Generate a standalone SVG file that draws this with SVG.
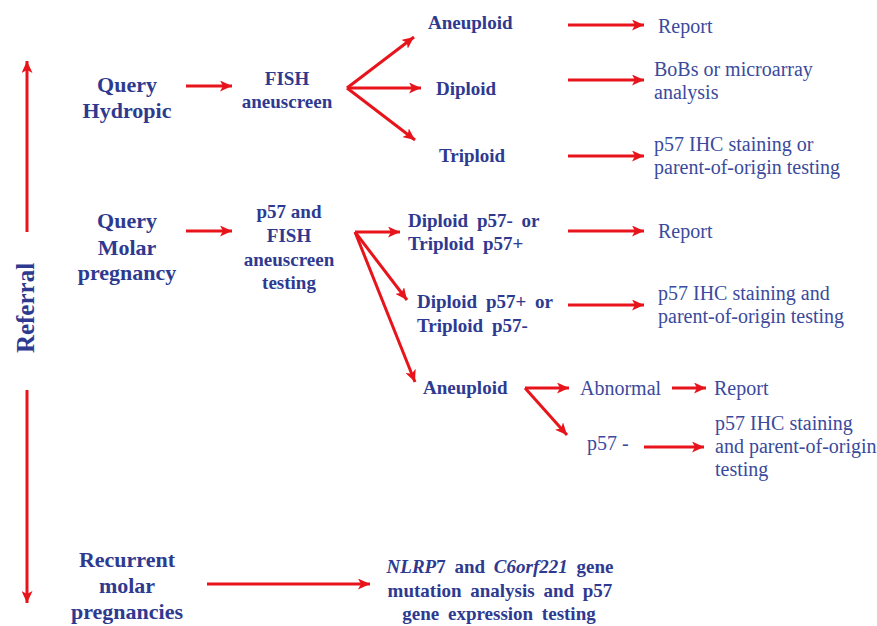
<svg xmlns="http://www.w3.org/2000/svg" width="877" height="626" viewBox="0 0 877 626" font-family="'Liberation Serif', 'Times New Roman', 'DejaVu Serif', serif">
<defs>
<marker id="ah" markerUnits="userSpaceOnUse" markerWidth="13" markerHeight="11" refX="12" refY="5.5" orient="auto">
<path d="M0,0 L12,5.5 L0,11 L3,5.5 Z" fill="#e8141b"/>
</marker>
<style>
text{font-family:'Liberation Serif','Times New Roman','DejaVu Serif',serif;}
.b{font-weight:bold;fill:#2e3a8f;font-size:19px;}
.h{font-weight:bold;fill:#2e3a8f;font-size:22px;text-anchor:middle;}
.n{fill:#3a4a9c;font-size:20px;}
.c{text-anchor:middle;}
.ws{word-spacing:4px;}
.a{stroke:#e8141b;stroke-width:3;fill:none;marker-end:url(#ah);}
</style>
</defs>
<rect width="877" height="626" fill="#ffffff"/>
<g id="connectors">
<line class="a" x1="27" y1="232" x2="27" y2="61"/>
<line class="a" x1="27" y1="390" x2="27" y2="603"/>
<line class="a" x1="186" y1="86" x2="232" y2="86"/>
<line class="a" x1="347" y1="88" x2="414" y2="37"/>
<line class="a" x1="347" y1="88" x2="421" y2="88"/>
<line class="a" x1="347" y1="88" x2="415" y2="140"/>
<line class="a" x1="568" y1="25" x2="644" y2="25"/>
<line class="a" x1="568" y1="80" x2="644" y2="80"/>
<line class="a" x1="568" y1="156" x2="644" y2="156"/>
<line class="a" x1="186" y1="231" x2="232" y2="231"/>
<line class="a" x1="355" y1="232" x2="400" y2="232"/>
<line class="a" x1="355" y1="232" x2="407" y2="300"/>
<line class="a" x1="355" y1="232" x2="415" y2="382"/>
<line class="a" x1="568" y1="231" x2="644" y2="231"/>
<line class="a" x1="568" y1="305" x2="644" y2="305"/>
<line class="a" x1="525" y1="388" x2="569" y2="388"/>
<line class="a" x1="525" y1="388" x2="567" y2="435"/>
<line class="a" x1="672" y1="388" x2="706" y2="388"/>
<line class="a" x1="644" y1="447" x2="704" y2="447"/>
<line class="a" x1="207" y1="584" x2="370" y2="584"/>
</g>
<g id="referral">
<text class="b" style="font-size:25px" text-anchor="middle" transform="translate(34,308) rotate(-90)">Referral</text>
</g>
<g id="query-hydropic">
<text class="h" x="127" y="92">Query</text>
<text class="h" x="127" y="118">Hydropic</text>
</g>
<g id="fish">
<text class="b c" x="287" y="85">FISH</text>
<text class="b c" x="287" y="108">aneuscreen</text>
</g>
<g id="aneuploid1"><text class="b" x="428" y="29">Aneuploid</text></g>
<g id="diploid1"><text class="b" x="436" y="95">Diploid</text></g>
<g id="triploid1"><text class="b" x="439" y="162">Triploid</text></g>
<g id="report1"><text class="n" x="658" y="33">Report</text></g>
<g id="bobs">
<text class="n" x="654" y="76">BoBs or microarray</text>
<text class="n" x="654" y="99">analysis</text>
</g>
<g id="p57-or">
<text class="n" x="654" y="151">p57 IHC staining or</text>
<text class="n" x="654" y="174">parent-of-origin testing</text>
</g>
<g id="query-molar">
<text class="h" x="127" y="228">Query</text>
<text class="h" x="127" y="255">Molar</text>
<text class="h" x="127" y="280">pregnancy</text>
</g>
<g id="p57-fish">
<text class="b c" x="289" y="218">p57 and</text>
<text class="b c" x="289" y="242">FISH</text>
<text class="b c" x="289" y="266">aneuscreen</text>
<text class="b c" x="289" y="289">testing</text>
</g>
<g id="diploid-minus">
<text class="b ws" x="408" y="227">Diploid p57- or</text>
<text class="b ws" x="408" y="250">Triploid p57+</text>
</g>
<g id="report2"><text class="n" x="658" y="238">Report</text></g>
<g id="diploid-plus">
<text class="b ws" x="417" y="308">Diploid p57+ or</text>
<text class="b ws" x="417" y="332">Triploid p57-</text>
</g>
<g id="p57-and">
<text class="n" x="658" y="300">p57 IHC staining and</text>
<text class="n" x="658" y="323">parent-of-origin testing</text>
</g>
<g id="aneuploid2"><text class="b" x="423" y="394">Aneuploid</text></g>
<g id="abnormal"><text class="n" x="580" y="395">Abnormal</text></g>
<g id="report3"><text class="n" x="714" y="395">Report</text></g>
<g id="p57-neg"><text class="n" x="587" y="450">p57 -</text></g>
<g id="p57-ihc3">
<text class="n" x="715" y="430">p57 IHC staining</text>
<text class="n" x="715" y="453">and parent-of-origin</text>
<text class="n" x="715" y="476">testing</text>
</g>
<g id="recurrent">
<text class="h" x="127" y="567">Recurrent</text>
<text class="h" x="127" y="593">molar</text>
<text class="h" x="127" y="619">pregnancies</text>
</g>
<g id="nlrp7">
<text class="b c ws" x="500" y="573"><tspan font-style="italic">NLRP</tspan>7 and <tspan font-style="italic">C6orf221</tspan> gene</text>
<text class="b c ws" x="500" y="597">mutation analysis and p57</text>
<text class="b c ws" x="499" y="620">gene expression testing</text>
</g>
</svg>
